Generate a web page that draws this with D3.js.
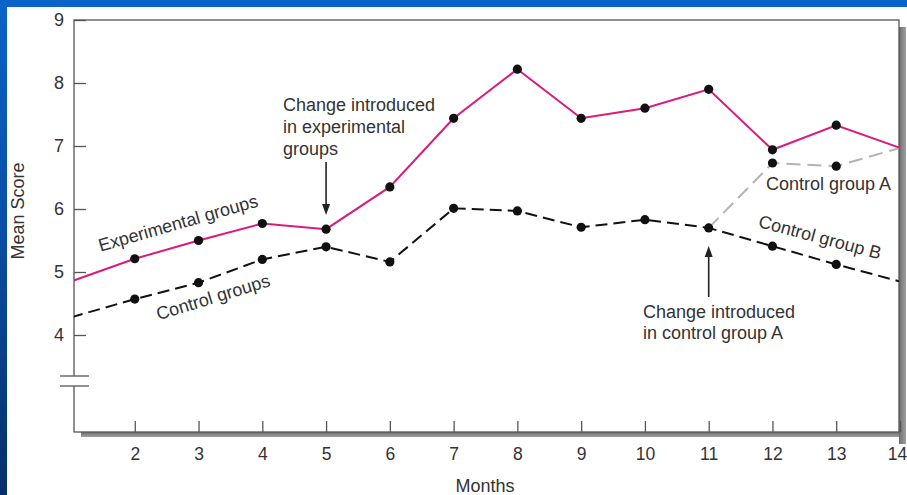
<!DOCTYPE html>
<html>
<head>
<meta charset="utf-8">
<script src="https://cdn.jsdelivr.net/npm/d3@7"></script>
<style>
  html, body { margin: 0; padding: 0; background: #fff; }
  svg { display: block; }
  text { font-family: "Liberation Sans", Arial, sans-serif; fill: #333; }
</style>
</head>
<body>
<svg id="chart" width="907" height="495"></svg>
<script>
// ---------- data ----------
const months = [1, 2, 3, 4, 5, 6, 7, 8, 9, 10, 11, 12, 13, 14];
const experimental = [4.85, 5.21, 5.50, 5.77, 5.68, 6.35, 7.44, 8.22, 7.44, 7.60, 7.90, 6.94, 7.33, 6.97];
const controlMonths = [1, 2, 3, 4, 5, 6, 7, 8, 9, 10, 11];
const control = [4.28, 4.57, 4.83, 5.20, 5.40, 5.16, 6.01, 5.97, 5.71, 5.83, 5.70];
const groupAMonths = [11, 12, 13, 14];
const groupA = [5.70, 6.73, 6.68, 6.97];
const groupBMonths = [11, 12, 13, 14];
const groupB = [5.70, 5.41, 5.12, 4.85];
const xTicks = [2, 3, 4, 5, 6, 7, 8, 9, 10, 11, 12, 13, 14];
const yTicks = [4, 5, 6, 7, 8, 9];

(function () {
const svg = d3.select("#chart");
const W = 907, H = 495;

// ---------- background ----------
const defs = svg.append("defs");
const bg = defs.append("linearGradient").attr("id", "bg").attr("x1", 0).attr("y1", 0).attr("x2", 0).attr("y2", 1);
bg.append("stop").attr("offset", "0%").attr("stop-color", "#0b62c8");
bg.append("stop").attr("offset", "45%").attr("stop-color", "#0a4fa6");
bg.append("stop").attr("offset", "100%").attr("stop-color", "#06306a");
svg.append("rect").attr("width", W).attr("height", H).attr("fill", "url(#bg)");
svg.append("rect").attr("x", 0).attr("y", 0).attr("width", W).attr("height", 7).attr("fill", "#0b62c8");
svg.append("rect").attr("x", 7).attr("y", 7).attr("width", W - 7).attr("height", H - 7).attr("fill", "#fff");

const sh = defs.append("linearGradient").attr("id", "shb").attr("x1", 0).attr("y1", 0).attr("x2", 0).attr("y2", 1);
sh.append("stop").attr("offset", "0%").attr("stop-color", "#6e6e6e");
sh.append("stop").attr("offset", "100%").attr("stop-color", "#a0a0a0");
const shr = defs.append("linearGradient").attr("id", "shr").attr("x1", 0).attr("y1", 0).attr("x2", 1).attr("y2", 0);
shr.append("stop").attr("offset", "0%").attr("stop-color", "#6e6e6e");
shr.append("stop").attr("offset", "100%").attr("stop-color", "#a0a0a0");

// ---------- scales ----------
const pL = 74, pR = 899, pT = 20, pB = 432;
const x = d3.scaleLinear().domain([1, 14]).range([71, 900]);
const y = d3.scaleLinear().domain([4, 9]).range([335, 20]);

// shadow of frame
svg.append("rect").attr("x", 81).attr("y", pB).attr("width", pR - 81 + 7).attr("height", 5).attr("fill", "url(#shb)");
svg.append("rect").attr("x", pR).attr("y", pT + 7).attr("width", 7).attr("height", pB - pT + 5).attr("fill", "url(#shr)");

// frame
svg.append("rect").attr("x", pL).attr("y", pT).attr("width", pR - pL).attr("height", pB - pT)
  .attr("fill", "#fff").attr("stroke", "#555").attr("stroke-width", 1.3);

// clip
defs.append("clipPath").attr("id", "plot").append("rect")
  .attr("x", pL).attr("y", pT).attr("width", pR - pL).attr("height", pB - pT);

// ---------- axes ----------
const xAxis = d3.axisBottom(x).tickValues(xTicks).tickFormat(d3.format("d"))
  .tickSizeInner(-11).tickSizeOuter(0).tickPadding(16);
const gx = svg.append("g").attr("transform", `translate(0,${pB})`).call(xAxis);
gx.select(".domain").remove();
gx.selectAll(".tick line").attr("stroke", "#555").attr("stroke-width", 1.3);
gx.selectAll(".tick text").style("font-size", "17.5px").attr("fill", "#333")
  .attr("dx", d => d === 14 ? -3 : 0);

const yAxis = d3.axisLeft(y).tickValues(yTicks).tickFormat(d3.format("d"))
  .tickSizeInner(-12).tickSizeOuter(0).tickPadding(10);
const gy = svg.append("g").attr("transform", `translate(${pL},0)`).call(yAxis);
gy.select(".domain").remove();
gy.selectAll(".tick line").attr("stroke", "#555").attr("stroke-width", 1.3);
gy.selectAll(".tick text").style("font-size", "18px").attr("fill", "#333");

// axis break
svg.append("rect").attr("x", pL - 3).attr("y", 376).attr("width", 6).attr("height", 10).attr("fill", "#fff");
[376, 386].forEach(v => {
  svg.append("line").attr("x1", 60).attr("x2", 89).attr("y1", v).attr("y2", v)
    .attr("stroke", "#555").attr("stroke-width", 1.3);
});

// axis titles
svg.append("text").attr("x", 485).attr("y", 492).attr("text-anchor", "middle")
  .style("font-size", "18px").text("Months");
svg.append("text").attr("transform", "translate(18,211) rotate(-90)").attr("text-anchor", "middle")
  .attr("dy", "0.35em").style("font-size", "18px").text("Mean Score");

// ---------- lines ----------
const plot = svg.append("g").attr("clip-path", "url(#plot)");
const line = d3.line().x(d => x(d[0])).y(d => y(d[1]));

plot.append("path").datum(groupAMonths.map((m, i) => [m, groupA[i]]))
  .attr("d", line).attr("fill", "none").attr("stroke", "#b3b3b3").attr("stroke-width", 2)
  .attr("stroke-dasharray", "14,7");
plot.append("path").datum(controlMonths.map((m, i) => [m, control[i]]))
  .attr("d", line).attr("fill", "none").attr("stroke", "#111").attr("stroke-width", 2)
  .attr("stroke-dasharray", "12,6");
plot.append("path").datum(groupBMonths.map((m, i) => [m, groupB[i]]))
  .attr("d", line).attr("fill", "none").attr("stroke", "#111").attr("stroke-width", 2)
  .attr("stroke-dasharray", "12,6").attr("stroke-dashoffset", 4);
plot.append("path").datum(months.map((m, i) => [m, experimental[i]]))
  .attr("d", line).attr("fill", "none").attr("stroke", "#dc1a7c").attr("stroke-width", 2);

// dots
const dotPts = [];
months.forEach((m, i) => { if (m > 1 && m < 14) dotPts.push([m, experimental[i]]); });
controlMonths.forEach((m, i) => { if (m > 1) dotPts.push([m, control[i]]); });
groupAMonths.forEach((m, i) => { if (m > 11 && m < 14) dotPts.push([m, groupA[i]]); });
groupBMonths.forEach((m, i) => { if (m > 11 && m < 14) dotPts.push([m, groupB[i]]); });
plot.selectAll("circle.dot").data(dotPts).join("circle").attr("class", "dot")
  .attr("cx", d => x(d[0])).attr("cy", d => y(d[1])).attr("r", 4.6).attr("fill", "#111");

// ---------- annotations ----------
const ann = svg.append("g").style("font-size", "18px");
function multiline(xp, ys, lines) {
  lines.forEach((t, i) => ann.append("text").attr("x", xp).attr("y", ys[i]).attr("dy", "0.35em").text(t));
}
multiline(283, [105, 127, 149], ["Change introduced", "in experimental", "groups"]);
multiline(643, [312, 333], ["Change introduced", "in control group A"]);
ann.append("text").attr("x", 766).attr("y", 184).attr("dy", "0.35em").text("Control group A");
ann.append("text").attr("transform", "translate(178,223) rotate(-16)").attr("text-anchor", "middle")
  .attr("dy", "0.35em").text("Experimental groups");
ann.append("text").attr("transform", "translate(213,297) rotate(-17)").attr("text-anchor", "middle")
  .attr("dy", "0.35em").text("Control groups");
ann.append("text").attr("transform", "translate(820,237) rotate(15)").attr("text-anchor", "middle")
  .attr("dy", "0.35em").text("Control group B");

// arrows
function arrow(xp, y1, y2) {
  const dir = y2 > y1 ? 1 : -1;
  svg.append("line").attr("x1", xp).attr("x2", xp).attr("y1", y1).attr("y2", y2 - dir * 8)
    .attr("stroke", "#222").attr("stroke-width", 1.6);
  svg.append("path").attr("d", `M${xp},${y2} L${xp - 4},${y2 - dir * 11} L${xp + 4},${y2 - dir * 11} Z`)
    .attr("fill", "#222");
}
arrow(x(5), 162, 215);
arrow(x(11), 297, 246);
})();
</script>
</body>
</html>
